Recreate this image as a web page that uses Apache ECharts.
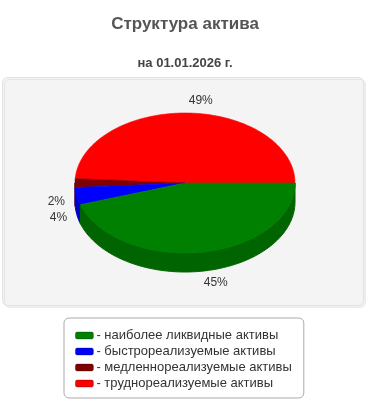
<!DOCTYPE html>
<html><head><meta charset="utf-8">
<script src="https://cdn.jsdelivr.net/npm/echarts@6/dist/echarts.min.js"></script>
<style>html,body{margin:0;padding:0;background:#fff}#c{width:370px;height:400px}</style>
</head><body><div id="c"></div>
<script>
var categories = ['наиболее ликвидные активы', 'быстрореализуемые активы', 'медленнореализуемые активы', 'труднореализуемые активы'];
var values = [45, 4, 2, 49];
var topColors = ['#008000', '#0000ff', '#800000', '#ff0000'];
var sideColors = ['#006400', '#0000c8', '#5a0000', '#c80000'];
var titleText = 'Структура актива';
var subtitleText = 'на 01.01.2026 г.';

// pie layout (drawing order: red first counter-clockwise from 3 o'clock)
var order = [3, 2, 1, 0];
var CX = 185, CY = 183, RX = 110, RY = 70, DEPTH = 19;
var total = values.reduce(function (a, b) { return a + b; }, 0);
var cumStart = {};
(function () { var c = 0; order.forEach(function (i) { cumStart[i] = c; c += values[i]; }); })();

function pt(t, dy) { return [CX + RX * Math.cos(t), CY + RY * Math.sin(t) + (dy || 0)]; }
function arcPts(t0, t1, dy) {
  var n = Math.max(2, Math.ceil(Math.abs(t1 - t0) / 0.02)), pts = [];
  for (var k = 0; k <= n; k++) pts.push(pt(t0 + (t1 - t0) * k / n, dy));
  return pts;
}
function makeRender(i) {
  return function (params, api) {
    var v = api.value(0);
    var tS = -(cumStart[i] + v) / total * 2 * Math.PI;
    var tE = -cumStart[i] / total * 2 * Math.PI;
    while (tS < 0) { tS += 2 * Math.PI; tE += 2 * Math.PI; }
    var children = [];
    [[0, Math.PI], [2 * Math.PI, 3 * Math.PI]].forEach(function (r) {
      var a = Math.max(tS, r[0]), b = Math.min(tE, r[1]);
      if (b > a) {
        var top = arcPts(a, b, 0), bot = arcPts(b, a, DEPTH);
        children.push({ type: 'polygon', z2: 1, shape: { points: top.concat(bot) },
          style: { fill: sideColors[i], stroke: sideColors[i], lineWidth: 1 } });
      }
    });
    var tp = [[CX, CY]].concat(arcPts(tS, tE, 0));
    children.push({ type: 'polygon', z2: 5, shape: { points: tp },
      style: { fill: topColors[i], stroke: topColors[i], lineWidth: 0.6 } });
    var mid = (tS + tE) / 2, c = Math.cos(mid), s = Math.sin(mid);
    var lx = CX + c * (RX + 10), ly = CY + s * (RY + 12) + (s >= 0 ? DEPTH : 0);
    children.push({ type: 'text', z2: 10, style: {
      text: Math.round(v / total * 100) + '%', x: lx, y: ly,
      align: c >= 0 ? 'left' : 'right', verticalAlign: 'middle',
      fill: '#333', font: '12px "Liberation Sans", Arial, sans-serif' } });
    return { type: 'group', children: children };
  };
}

var series = order.map(function (i) {
  return { type: 'custom', name: categories[i], coordinateSystem: 'none',
    itemStyle: { color: topColors[i] }, data: [[values[i]]], renderItem: makeRender(i),
    z: 2, silent: true, animation: false };
});

var chart = echarts.init(document.getElementById('c'), null, { renderer: 'canvas' });
chart.setOption({
  animation: false,
  graphic: [{ type: 'rect', z: 0, silent: true,
    shape: { x: 2.5, y: 77.5, width: 361, height: 228, r: 5 },
    style: { fill: '#f4f4f4', stroke: '#e2e2e2', lineWidth: 1,
      shadowColor: 'rgba(0,0,0,0.06)', shadowOffsetX: 2, shadowOffsetY: 2, shadowBlur: 0 } }],
  title: [
    { text: titleText, left: 'center', top: 11,
      textStyle: { fontSize: 17, fontWeight: 'bold', color: '#555', fontFamily: '"Liberation Sans", Arial, sans-serif' } },
    { text: subtitleText, left: 'center', top: 52,
      textStyle: { fontSize: 13, fontWeight: 'bold', color: '#444', fontFamily: '"Liberation Sans", Arial, sans-serif' } }
  ],
  legend: {
    data: categories, orient: 'vertical', left: 64, top: 318,
    icon: 'roundRect', itemWidth: 18, itemHeight: 7, itemGap: 3,
    padding: [11, 12, 8, 11], backgroundColor: '#fff', borderColor: '#aaa', borderWidth: 1, borderRadius: 5,
    selectedMode: false,
    itemStyle: { borderColor: 'rgba(0,0,0,0.35)', borderWidth: 0.8 },
    formatter: function (n) { return '- ' + n; },
    textStyle: { fontSize: 13, lineHeight: 13, color: '#333', padding: [0, 0, 0, -2], fontFamily: '"Liberation Sans", Arial, sans-serif' }
  },
  series: series
});
</script></body></html>
